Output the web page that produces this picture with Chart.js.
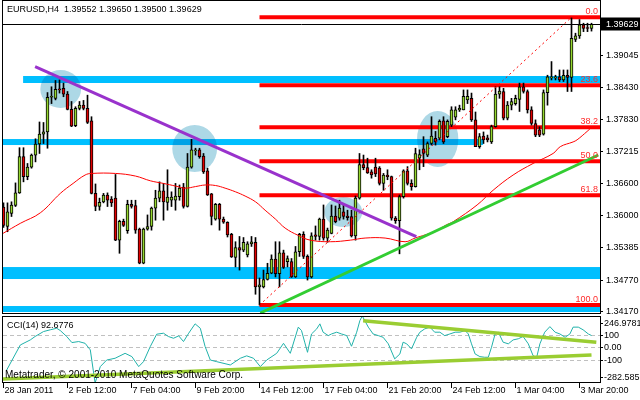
<!DOCTYPE html>
<html>
<head>
<meta charset="utf-8">
<script src="https://cdn.jsdelivr.net/npm/chart.js@4.4.1/dist/chart.umd.min.js"></script>
<style>
  html, body { margin: 0; padding: 0; background: #fff; }
  #wrap { position: relative; width: 640px; height: 400px; overflow: hidden; }
  canvas { position: absolute; left: 0; }
  #main { top: 0; }
  #cci { top: 316px; }
</style>
</head>
<body>
<div id="wrap">
  <canvas id="main" width="640" height="316"></canvas>
  <canvas id="cci" width="640" height="84"></canvas>
</div>
<script>
// ---- data ----
const symbol = "EURUSD,H4";

const opens = [1.3615,
  1.3578, 1.3603, 1.3618, 1.3642, 1.3711, 1.3673, 1.3691, 1.3714, 1.3735, 1.3754,
  1.3758, 1.3824, 1.3822, 1.3839, 1.3841, 1.3830, 1.3801, 1.3770, 1.3803, 1.3809,
  1.3803, 1.3779, 1.3641, 1.3616, 1.3625, 1.3638, 1.3630, 1.3632, 1.3552, 1.3588,
  1.3570, 1.3620, 1.3618, 1.3573, 1.3508, 1.3573, 1.3578, 1.3613, 1.3632, 1.3646,
  1.3624, 1.3628, 1.3628, 1.3635, 1.3653, 1.3616, 1.3691, 1.3722, 1.3724, 1.3712,
  1.3684, 1.3640, 1.3592, 1.3620, 1.3592, 1.3586, 1.3563, 1.3519, 1.3538, 1.3533,
  1.3524, 1.3545, 1.3548, 1.3463, 1.3463, 1.3477, 1.3489, 1.3516, 1.3488, 1.3528,
  1.3511, 1.3511, 1.3482, 1.3530, 1.3563, 1.3521, 1.3482, 1.3562, 1.3559, 1.3592,
  1.3556, 1.3565, 1.3598, 1.3594, 1.3606, 1.3598, 1.3597, 1.3560, 1.3632, 1.3696,
  1.3690, 1.3682, 1.3691, 1.3689, 1.3660, 1.3676, 1.3673, 1.3594, 1.3589, 1.3635,
  1.3684, 1.3660, 1.3654, 1.3708, 1.3726, 1.3714, 1.3736, 1.3746, 1.3746, 1.3779,
  1.3749, 1.3771, 1.3786, 1.3800, 1.3800, 1.3819, 1.3822, 1.3781, 1.3730, 1.3750,
  1.3747, 1.3739, 1.3768, 1.3830, 1.3835, 1.3784, 1.3809, 1.3812, 1.3820, 1.3844,
  1.3835, 1.3800, 1.3774, 1.3762, 1.3754, 1.3833, 1.3861, 1.3861, 1.3863, 1.3857,
  1.3866, 1.3862, 1.3934, 1.3941, 1.3962, 1.3956, 1.39552];
const highs = [1.3623,
  1.3623, 1.3625, 1.3661, 1.3728, 1.3728, 1.3698, 1.3716, 1.3745, 1.3777, 1.3776,
  1.3833, 1.3844, 1.3856, 1.3857, 1.3851, 1.3835, 1.3816, 1.3806, 1.3816, 1.3818,
  1.3828, 1.3787, 1.3659, 1.3632, 1.3641, 1.3642, 1.3635, 1.3677, 1.3590, 1.3592,
  1.3628, 1.3628, 1.3628, 1.3575, 1.3575, 1.3600, 1.3615, 1.3647, 1.3663, 1.3660,
  1.3686, 1.3644, 1.3660, 1.3657, 1.3660, 1.3717, 1.3744, 1.3727, 1.3727, 1.3717,
  1.3689, 1.3641, 1.3622, 1.3622, 1.3596, 1.3587, 1.3565, 1.3549, 1.3559, 1.3557,
  1.3549, 1.3559, 1.3557, 1.3480, 1.3495, 1.3508, 1.3524, 1.3549, 1.3549, 1.3533,
  1.3522, 1.3517, 1.3540, 1.3565, 1.3568, 1.3524, 1.3566, 1.3579, 1.3594, 1.3619,
  1.3575, 1.3619, 1.3617, 1.3628, 1.3619, 1.3609, 1.3609, 1.3636, 1.3717, 1.3714,
  1.3708, 1.3686, 1.3708, 1.3692, 1.3679, 1.3686, 1.3674, 1.3597, 1.3638, 1.3686,
  1.3692, 1.3667, 1.3727, 1.3724, 1.3749, 1.3739, 1.3787, 1.3759, 1.3781, 1.3787,
  1.3781, 1.3806, 1.3806, 1.3809, 1.3838, 1.3838, 1.3832, 1.3796, 1.3755, 1.3758,
  1.3752, 1.3771, 1.3844, 1.3844, 1.3841, 1.3816, 1.3822, 1.3828, 1.3851, 1.3851,
  1.3838, 1.3806, 1.3781, 1.3768, 1.3838, 1.3866, 1.3892, 1.3866, 1.3876, 1.3876,
  1.3876, 1.3975, 1.3946, 1.3972, 1.3965, 1.3965, 1.39650];
const lows = [1.3576,
  1.3568, 1.3597, 1.3616, 1.3641, 1.3663, 1.3667, 1.3689, 1.3701, 1.3717, 1.3736,
  1.3727, 1.3812, 1.3819, 1.3832, 1.3825, 1.3800, 1.3768, 1.3768, 1.3800, 1.3800,
  1.3774, 1.3640, 1.3608, 1.3609, 1.3623, 1.3616, 1.3616, 1.3551, 1.3527, 1.3578,
  1.3565, 1.3613, 1.3565, 1.3507, 1.3507, 1.3571, 1.3571, 1.3590, 1.3625, 1.3590,
  1.3609, 1.3616, 1.3609, 1.3628, 1.3613, 1.3615, 1.3689, 1.3714, 1.3708, 1.3679,
  1.3637, 1.3581, 1.3590, 1.3571, 1.3584, 1.3558, 1.3519, 1.3501, 1.3495, 1.3530,
  1.3520, 1.3540, 1.3449, 1.34284, 1.3461, 1.3476, 1.3488, 1.3482, 1.3463, 1.3498,
  1.3501, 1.3481, 1.3481, 1.3521, 1.3517, 1.3476, 1.3480, 1.3552, 1.3552, 1.3552,
  1.3548, 1.3564, 1.3585, 1.3590, 1.3592, 1.3590, 1.3558, 1.3552, 1.3630, 1.3686,
  1.3679, 1.3670, 1.3673, 1.3657, 1.3647, 1.3667, 1.3590, 1.3584, 1.3526, 1.3632,
  1.3657, 1.3647, 1.3653, 1.3686, 1.3692, 1.3711, 1.3733, 1.3733, 1.3743, 1.3736,
  1.3747, 1.3768, 1.3781, 1.3797, 1.3800, 1.3812, 1.3778, 1.3730, 1.3727, 1.3736,
  1.3739, 1.3736, 1.3767, 1.3822, 1.3781, 1.3781, 1.3800, 1.3809, 1.3797, 1.3832,
  1.3794, 1.3771, 1.3749, 1.3749, 1.3752, 1.3809, 1.3857, 1.3857, 1.3854, 1.3854,
  1.3835, 1.3835, 1.3930, 1.3936, 1.3949, 1.3949, 1.39500];
const closes = [1.3580,
  1.3606, 1.3619, 1.3642, 1.3711, 1.3673, 1.3691, 1.3714, 1.3735, 1.3754, 1.3758,
  1.3824, 1.3825, 1.3839, 1.3838, 1.3830, 1.3801, 1.3769, 1.3803, 1.3809, 1.3803,
  1.3776, 1.3641, 1.3616, 1.3624, 1.3638, 1.3628, 1.3623, 1.3552, 1.3588, 1.3580,
  1.3620, 1.3616, 1.3571, 1.3508, 1.3573, 1.3578, 1.3613, 1.3632, 1.3646, 1.3625,
  1.3634, 1.3634, 1.3636, 1.3651, 1.3616, 1.3691, 1.3724, 1.3723, 1.3711, 1.3682,
  1.3638, 1.3597, 1.3620, 1.3592, 1.3586, 1.3562, 1.3520, 1.3538, 1.3533, 1.3548,
  1.3545, 1.3549, 1.3463, 1.3467, 1.3477, 1.3489, 1.3516, 1.3488, 1.3528, 1.3500,
  1.3517, 1.3482, 1.3530, 1.3563, 1.3521, 1.3482, 1.3560, 1.3559, 1.3592, 1.3556,
  1.3571, 1.3598, 1.3587, 1.3613, 1.3597, 1.3595, 1.3560, 1.3632, 1.3696, 1.3690,
  1.3680, 1.3676, 1.3678, 1.3660, 1.3676, 1.3673, 1.3594, 1.3589, 1.3635, 1.3684,
  1.3660, 1.3654, 1.3717, 1.3715, 1.3717, 1.3736, 1.3750, 1.3739, 1.3778, 1.3739,
  1.3778, 1.3800, 1.3800, 1.3803, 1.3826, 1.3826, 1.3781, 1.3730, 1.3749, 1.3743,
  1.3743, 1.3768, 1.3830, 1.3836, 1.3784, 1.3809, 1.3816, 1.3822, 1.3844, 1.3835,
  1.3800, 1.3774, 1.3752, 1.3752, 1.3833, 1.3863, 1.3862, 1.3862, 1.3857, 1.3866,
  1.3862, 1.3936, 1.3941, 1.3962, 1.3955, 1.3955, 1.39629];

// moving average (red), read at sample bars
const maBars = [-0.1, 4.2, 9.2, 14.2, 17.4, 20.4, 22, 28, 33, 36.7, 40, 43, 45.4, 48, 50.4,
  53, 55.4, 58, 60.4, 63, 65.4, 68, 70.4, 73.7, 76.7, 81.7, 86.7, 90.4, 95.4, 100.4,
  102.9, 105.4, 108, 110.7, 112.4, 118.4, 122.4, 127.4, 132.4, 137.4, 139.2, 142.4, 143.4, 145.9, 147.2];
const maValues = [1.3565, 1.3584, 1.3604, 1.3641, 1.3660, 1.3676, 1.3679, 1.3679, 1.3674, 1.3665, 1.3660, 1.3655, 1.3651, 1.3654, 1.3657,
  1.3656, 1.3651, 1.3644, 1.3636, 1.3625, 1.3609, 1.3592, 1.3575, 1.3561, 1.3552, 1.3549, 1.3552, 1.3556, 1.3556, 1.3549,
  1.3556, 1.3562, 1.3569, 1.3581, 1.3587, 1.3619, 1.3647, 1.3676, 1.3698, 1.3717, 1.3730, 1.3739, 1.3743, 1.3759, 1.3768];

// Fibonacci retracement
const fibLabels = ["0.0", "23.6", "38.2", "50.0", "61.8", "100.0"];
const fibPrices = [1.39763, 1.38470, 1.37670, 1.37024, 1.36377, 1.34284];
const fibStartBar = 64;
const fibTrendBars = [64, 142];
const fibTrendPrices = [1.34284, 1.39763];

// trend lines
const purpleBars = [7.9, 103.2];
const purplePrices = [1.38822, 1.35586];
const greenBars = [64.2, 148.7];
const greenPrices = [1.34133, 1.37141];

// horizontal support / resistance zones
const bandTops = [1.38645, 1.37445, 1.35008, 1.34266];
const bandBottoms = [1.38512, 1.37331, 1.34780, 1.34152];
const bandStarts = [4.9, -0.2, -0.2, -0.2];
const bandEnds = [149.3, 119.9, 149.3, 149.3];

// highlighted areas
const ellFrom = [9.2, 42.2, 80.2, 103.4];
const ellTo = [19.4, 53.4, 89.7, 113.7];
const ellHigh = [1.38759, 1.37712, 1.36341, 1.37979];
const ellLow = [1.38036, 1.36817, 1.35770, 1.36912];

// price axis
const priceTicks = [1.39045, 1.38430, 1.37830, 1.37215, 1.36600, 1.36000, 1.35385, 1.34770, 1.34170];

// time axis
const dateBars = [0, 16, 32, 48, 64, 80, 96, 112, 128, 144];
const dateLabels = ["28 Jan 2011", "2 Feb 12:00", "7 Feb 04:00", "9 Feb 20:00", "14 Feb 12:00",
  "17 Feb 04:00", "21 Feb 20:00", "24 Feb 12:00", "1 Mar 04:00", "3 Mar 20:00"];

// CCI(14)
const cciBars = [0.8, 4.2, 6.7, 7.9, 10, 11.7, 13.3, 14.2, 15.8, 17.1,
  18.8, 20.4, 21.7, 22.9, 24.2, 25.8, 27.9, 30.4, 32.1, 33.8,
  35, 36.7, 38.3, 40, 41.2, 42.5, 43.8, 45, 46.3, 47.9,
  49.2, 50.4, 51.7, 53.3, 56.7, 59.2, 60.8, 62.5, 64.2, 65.8,
  68.3, 70, 71.7, 73.7, 74.5, 75.3, 76, 77, 78.3, 79.1,
  79.9, 81.2, 82, 83.3, 84.5, 85.8, 87, 88.3, 89.1, 89.7,
  91.2, 92.4, 93.7, 94.9, 96.2, 97.8, 99.1, 99.9, 100.8, 102,
  103.3, 104.1, 105.3, 106.6, 107.8, 109.1, 110.3, 111.6, 112.9, 114.1,
  115.4, 116.2, 117, 117.9, 119.1, 120.3, 121.2, 122, 122.9, 123.7,
  124.9, 126.2, 127.4, 128.7, 129.9, 131.2, 132.4, 133.3, 134.1, 135.3,
  136.6, 137.9, 139.1, 140.4, 141.6, 142.4, 143.7, 144.9, 146.2, 147];
const cciValues = [-180, 18, 58, 85, 124, 138, 150, 132, 85, 37,
  45, 31, -21, -282.585, -153, -101, -87, -48, -74, -153,
  -114, 6, 103, 111, 85, 71, 90, 45, 111, 185,
  150, 6, -101, -114, -140, -87, -68, -87, -153, -101,
  -48, 31, -48, 159, 132, 40, -40, 105, 145, 185,
  119, 92, 105, 119, 105, 92, 8, 119, 211, 246.9781,
  159, 105, 92, 79, 27, -92, -53, 40, 27, -13,
  79, 119, 145, 159, 119, 119, 92, 105, 119, 119,
  132, 105, 27, -53, -74, -79, -79, 0, 105, 119,
  40, 27, 58, 67, 85, 27, -67, -79, 27, 119,
  163, 119, 105, 79, 105, 159, 159, 138, 105, 92.6776];
const cciUpperBars = [89.9, 148.2];
const cciUpperValues = [209, 39];
const cciLowerBars = [-0.2, 147];
const cciLowerValues = [-251, -62];
const cciTickValues = [246.9781, 100, 0, -100, -282.585];
const cciTickLabels = ["246.9781", "100", "0.00", "-100", "-282.585"];

// ---- view ----
const X_MIN = -0.125, X_MAX = 149.125;
const P_MIN = 1.34114, P_MAX = 1.40054;
const FONT = '9px "Liberation Sans", Arial, sans-serif';
const BULL = "#94D62F";
const BEAR = "#E00000";

const lastIdx = closes.length - 1;
const barIdx = opens.map((_, i) => i);
const pts = (xs, ys) => xs.map((v, i) => ({ x: v, y: ys[i] }));

function lineSet(data, color, width, order, extra) {
  return Object.assign({
    type: "line", data, borderColor: color, borderWidth: width,
    pointRadius: 0, fill: false, order
  }, extra || {});
}

const mainDecor = {
  id: "mainDecor",
  beforeDatasetsDraw(chart) {
    const { ctx, chartArea: a, scales: { x, y } } = chart;
    ctx.save();
    ctx.beginPath();
    ctx.rect(a.left, a.top, a.right - a.left, a.bottom - a.top);
    ctx.clip();
    ctx.fillStyle = "#00BFFF";
    bandTops.forEach((t, k) => {
      const x0 = x.getPixelForValue(bandStarts[k]);
      const x1 = x.getPixelForValue(bandEnds[k]);
      const y0 = y.getPixelForValue(t);
      const y1 = y.getPixelForValue(bandBottoms[k]);
      ctx.fillRect(x0, y0, x1 - x0, y1 - y0);
    });
    ctx.globalCompositeOperation = "multiply";
    ctx.fillStyle = "#ADD8E6";
    ellFrom.forEach((b, k) => {
      const x0 = x.getPixelForValue(b), x1 = x.getPixelForValue(ellTo[k]);
      const y0 = y.getPixelForValue(ellHigh[k]), y1 = y.getPixelForValue(ellLow[k]);
      ctx.beginPath();
      ctx.ellipse((x0 + x1) / 2, (y0 + y1) / 2, (x1 - x0) / 2, (y1 - y0) / 2, 0, 0, Math.PI * 2);
      ctx.fill();
    });
    ctx.restore();
  },
  afterDatasetsDraw(chart) {
    const { ctx, chartArea: a, scales: { x, y } } = chart;
    ctx.save();
    ctx.font = FONT;
    ctx.lineWidth = 1;
    ctx.strokeStyle = "#000";

    // current price line
    const yc = Math.round(y.getPixelForValue(closes[lastIdx])) + 0.5;
    ctx.beginPath();
    ctx.moveTo(a.left, yc);
    ctx.lineTo(a.right, yc);
    ctx.stroke();

    // fibo level captions
    ctx.fillStyle = "#FF2A2A";
    ctx.textAlign = "right";
    ctx.textBaseline = "bottom";
    fibLabels.forEach((t, k) => {
      ctx.fillText(t, a.right - 2, y.getPixelForValue(fibPrices[k]) - 1.5);
    });

    // header
    ctx.fillStyle = "#000";
    ctx.textAlign = "left";
    ctx.textBaseline = "middle";
    const head = symbol + "  " + [opens, highs, lows, closes].map(s => s[lastIdx].toFixed(5)).join(" ");
    ctx.fillText(head, 7, 10);

    // frame
    ctx.strokeRect(2.5, 0.5, 598, 313);

    // price axis
    priceTicks.forEach(v => {
      const py = Math.round(y.getPixelForValue(v)) + 0.5;
      ctx.beginPath();
      ctx.moveTo(a.right, py);
      ctx.lineTo(a.right + 3, py);
      ctx.stroke();
      ctx.fillText(v.toFixed(5), a.right + 6, py);
    });

    // current price tag
    ctx.fillRect(a.right + 1, yc - 7, 39, 13);
    ctx.fillStyle = "#fff";
    ctx.fillText(closes[lastIdx].toFixed(5), a.right + 6, yc);
    ctx.restore();
  }
};

new Chart(document.getElementById("main"), {
  type: "bar",
  data: {
    datasets: [
      ...fibPrices.map(p => lineSet(pts([fibStartBar, X_MAX + 1], [p, p]), "#FF0000", 4, 10)),
      {
        type: "bar",
        data: barIdx.map(i => ({ x: i, y: [lows[i], highs[i]] })),
        backgroundColor: "#000",
        barThickness: 1,
        grouped: false,
        order: 6
      },
      {
        type: "bar",
        data: barIdx.map(i => ({ x: i, y: [opens[i], closes[i]] })),
        backgroundColor: barIdx.map(i => (closes[i] >= opens[i] ? BULL : BEAR)),
        borderColor: "#000",
        borderWidth: 1,
        borderSkipped: false,
        barThickness: 3,
        minBarLength: 1,
        grouped: false,
        order: 5
      },
      lineSet(pts(maBars, maValues), "#FF0000", 1, 4, { tension: 0.4 }),
      lineSet(pts(fibTrendBars, fibTrendPrices), "#FF0000", 1, 3, { borderDash: [2, 3] }),
      lineSet(pts(purpleBars, purplePrices), "#9932CC", 3, 2),
      lineSet(pts(greenBars, greenPrices), "#32CD32", 3, 1)
    ]
  },
  options: {
    responsive: false,
    animation: false,
    events: [],
    layout: { padding: { left: 3, right: 40, top: 2, bottom: 2 } },
    plugins: { legend: { display: false }, tooltip: { enabled: false } },
    scales: {
      x: { type: "linear", min: X_MIN, max: X_MAX, display: false, offset: false },
      y: { type: "linear", min: P_MIN, max: P_MAX, display: false }
    }
  },
  plugins: [mainDecor]
});

const cciDecor = {
  id: "cciDecor",
  beforeDatasetsDraw(chart) {
    const { ctx, chartArea: a, scales: { y } } = chart;
    ctx.save();
    ctx.strokeStyle = "#C0C0C0";
    ctx.lineWidth = 1;
    ctx.setLineDash([4, 3]);
    [100, 0, -100].forEach(v => {
      const py = Math.round(y.getPixelForValue(v)) + 0.5;
      ctx.beginPath();
      ctx.moveTo(a.left, py);
      ctx.lineTo(a.right, py);
      ctx.stroke();
    });
    ctx.restore();
  },
  afterDatasetsDraw(chart) {
    const { ctx, chartArea: a, scales: { x, y } } = chart;
    ctx.save();
    ctx.font = FONT;
    ctx.fillStyle = "#000";
    ctx.strokeStyle = "#000";
    ctx.lineWidth = 1;
    ctx.textAlign = "left";
    ctx.textBaseline = "middle";
    ctx.fillText("CCI(14) " + cciValues[cciValues.length - 1].toFixed(4), 7, 10);
    ctx.font = '10px "Liberation Sans", Arial, sans-serif';
    ctx.fillText("Metatrader, \u00A9 2001-2010 MetaQuotes Software Corp.", 5, 59);
    ctx.font = FONT;

    ctx.strokeRect(2.5, 0.5, 598, 66);

    cciTickValues.forEach((v, k) => {
      let py = Math.round(y.getPixelForValue(v)) + 0.5;
      if (k === 0) py += 7;
      if (k === cciTickValues.length - 1) py -= 6;
      ctx.beginPath();
      ctx.moveTo(a.right, py);
      ctx.lineTo(a.right + 3, py);
      ctx.stroke();
      ctx.fillText(cciTickLabels[k], a.right + 4, py);
    });

    dateBars.forEach((b, k) => {
      const px = Math.round(x.getPixelForValue(b)) - 0.5;
      ctx.beginPath();
      ctx.moveTo(px, 67);
      ctx.lineTo(px, 72);
      ctx.stroke();
      ctx.fillText(dateLabels[k], px + 1, 75);
    });
    ctx.restore();
  }
};

new Chart(document.getElementById("cci"), {
  type: "line",
  data: {
    datasets: [
      lineSet(pts(cciBars, cciValues), "#20B2AA", 1, 3),
      lineSet(pts(cciUpperBars, cciUpperValues), "#9ACD32", 3.5, 1),
      lineSet(pts(cciLowerBars, cciLowerValues), "#9ACD32", 3.5, 2)
    ]
  },
  options: {
    responsive: false,
    animation: false,
    events: [],
    layout: { padding: { left: 3, right: 40, top: 0, bottom: 17 } },
    plugins: { legend: { display: false }, tooltip: { enabled: false } },
    scales: {
      x: { type: "linear", min: X_MIN, max: X_MAX, display: false },
      y: { type: "linear", min: -282.585, max: 246.9781, display: false }
    }
  },
  plugins: [cciDecor]
});
</script>
</body>
</html>
